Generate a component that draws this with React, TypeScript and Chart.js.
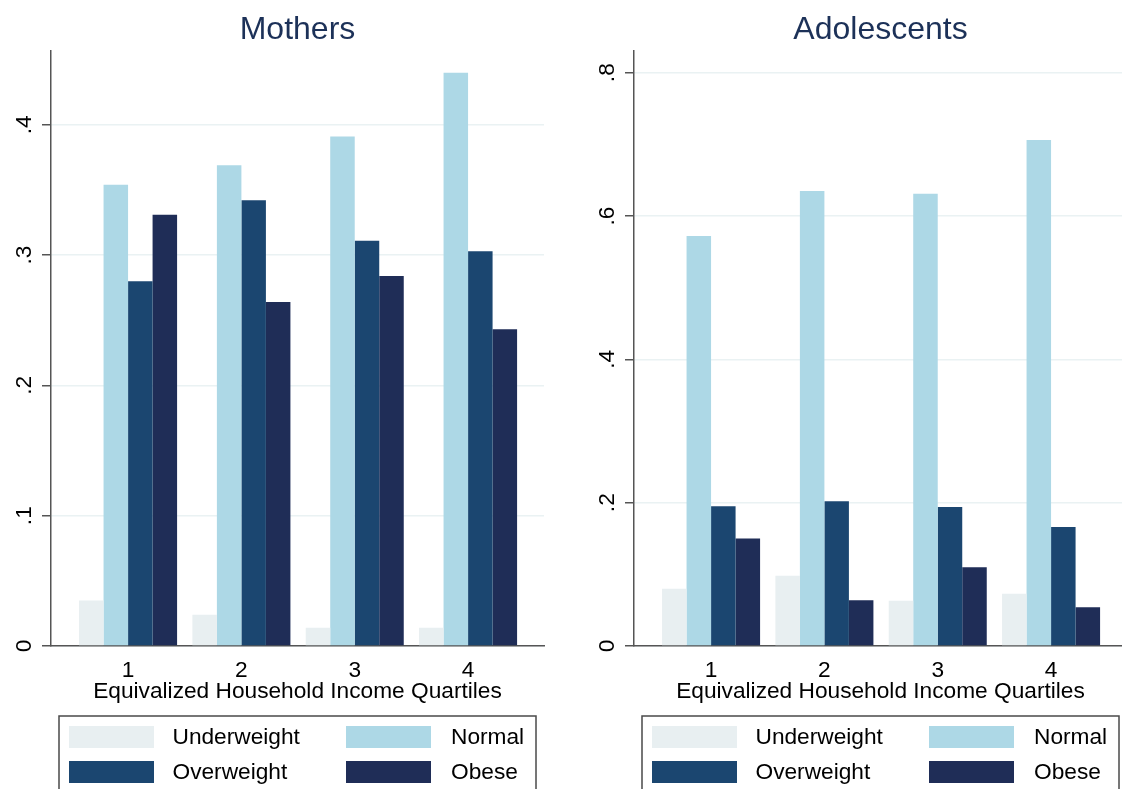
import React, { useEffect, useRef } from "react";
import { Chart, registerables } from "chart.js";

Chart.register(...registerables);

// ---- data ----
const categories = [1, 2, 3, 4];
const xTickLabels = ["1", "2", "3", "4"];
const seriesLabels = ["Underweight", "Normal", "Overweight", "Obese"];
const seriesColors = ["#e8eff1", "#add8e6", "#1b4670", "#1f2d57"];

const mothersUnderweight = [0.035, 0.024, 0.014, 0.014];
const mothersNormal = [0.354, 0.369, 0.391, 0.44];
const mothersOverweight = [0.28, 0.342, 0.311, 0.303];
const mothersObese = [0.331, 0.264, 0.284, 0.243];

const adolUnderweight = [0.08, 0.098, 0.063, 0.073];
const adolNormal = [0.572, 0.635, 0.631, 0.706];
const adolOverweight = [0.195, 0.202, 0.194, 0.166];
const adolObese = [0.15, 0.064, 0.11, 0.054];

const mothersYTicks = [0, 0.1, 0.2, 0.3, 0.4];
const mothersYTickLabels = ["0", ".1", ".2", ".3", ".4"];
const adolYTicks = [0, 0.2, 0.4, 0.6, 0.8];
const adolYTickLabels = ["0", ".2", ".4", ".6", ".8"];

const xTitle = "Equivalized Household Income Quartiles";

const FONT = "'Liberation Sans', Arial, Helvetica, sans-serif";
const TXT = 22.7;

const boxLegend = {
  id: "boxLegend",
  afterDraw(chart: any) {
    const { ctx, chartArea } = chart;
    const left = chartArea.left + 8;
    const right = chartArea.right - 8;
    const top = chartArea.bottom + 70;
    ctx.save();
    ctx.strokeStyle = "#4a4a4a";
    ctx.lineWidth = 1.5;
    ctx.strokeRect(left, top, right - left, 140);
    ctx.font = `${TXT}px ${FONT}`;
    ctx.textBaseline = "middle";
    ctx.textAlign = "left";
    chart.data.datasets.forEach((d: any, i: number) => {
      const col = i % 2;
      const row = Math.floor(i / 2);
      const sx = left + (col ? 287 : 10);
      const sy = top + 10 + row * 35;
      ctx.fillStyle = d.backgroundColor;
      ctx.fillRect(sx, sy, 85, 22);
      ctx.fillStyle = "#000";
      ctx.fillText(d.label, sx + (col ? 105 : 103.5), sy + 12);
    });
    ctx.restore();
  },
};

function Panel(props: {
  title: string;
  series: number[][];
  yMax: number;
  yTicks: number[];
  yTickLabels: string[];
  left: number;
}) {
  const ref = useRef<HTMLCanvasElement | null>(null);
  useEffect(() => {
    if (!ref.current) return;
    const datasets = props.series.map((arr, si) => ({
      label: seriesLabels[si],
      data: categories.map((c, i) => ({ x: c, y: arr[i] })),
      backgroundColor: seriesColors[si],
      borderWidth: 0,
      categoryPercentage: 0.865,
      barPercentage: 1,
    }));
    const chart = new Chart(ref.current, {
      type: "bar",
      data: { datasets } as any,
      plugins: [boxLegend],
      options: {
        responsive: false,
        animation: false,
        layout: { padding: { left: 0, right: 39, top: 0, bottom: 83 } },
        plugins: {
          legend: { display: false },
          tooltip: { enabled: false },
          title: {
            display: true,
            text: props.title,
            fullSize: false,
            color: "#1c3158",
            font: { size: 32, family: FONT, weight: "normal" as any },
            padding: { top: 11, bottom: 1.1 },
          },
        },
        scales: {
          x: {
            type: "linear",
            min: 0.32,
            max: 4.67,
            offset: false,
            afterBuildTicks: (s: any) => {
              s.ticks = categories.map((v) => ({ value: v }));
            },
            afterFit: (s: any) => {
              s.height = 60;
            },
            ticks: {
              autoSkip: false,
              maxRotation: 0,
              padding: 11,
              color: "#000",
              font: { size: TXT, family: FONT },
              callback: (_v: any, i: number) => xTickLabels[i],
            },
            grid: { display: false, drawTicks: false, tickLength: 0 },
            border: { display: true, color: "#555", width: 1.5 },
            title: {
              display: true,
              text: xTitle,
              color: "#000",
              font: { size: TXT, family: FONT },
              padding: { top: 0, bottom: 0.5 },
            },
          },
          y: {
            type: "linear",
            min: 0,
            max: props.yMax,
            afterBuildTicks: (s: any) => {
              s.ticks = props.yTicks.map((v) => ({ value: v }));
            },
            afterFit: (s: any) => {
              s.width = 51;
            },
            ticks: {
              autoSkip: false,
              minRotation: 90,
              maxRotation: 90,
              crossAlign: "center",
              padding: 8,
              color: "#000",
              font: { size: TXT, family: FONT },
              callback: (_v: any, i: number) => props.yTickLabels[i],
            },
            grid: {
              color: "#eaf2f3",
              lineWidth: 1.5,
              tickColor: "#555",
              tickLength: 9,
              drawTicks: true,
            },
            border: { display: true, color: "#555", width: 1.5 },
          },
        },
      } as any,
    });
    return () => chart.destroy();
  }, []);
  return (
    <div style={{ position: "absolute", left: props.left, top: 0, width: 583, height: 789 }}>
      <canvas ref={ref} width={583} height={789} style={{ width: 583, height: 789, display: "block" }} />
    </div>
  );
}

export default function App() {
  return (
    <div
      style={{
        position: "absolute",
        left: 0,
        top: 0,
        width: 1122,
        height: 789,
        overflow: "hidden",
        background: "#fff",
      }}
    >
      <Panel
        title="Mothers"
        series={[mothersUnderweight, mothersNormal, mothersOverweight, mothersObese]}
        yMax={0.457}
        yTicks={mothersYTicks}
        yTickLabels={mothersYTickLabels}
        left={0}
      />
      <Panel
        title="Adolescents"
        series={[adolUnderweight, adolNormal, adolOverweight, adolObese]}
        yMax={0.831}
        yTicks={adolYTicks}
        yTickLabels={adolYTickLabels}
        left={583}
      />
    </div>
  );
}
